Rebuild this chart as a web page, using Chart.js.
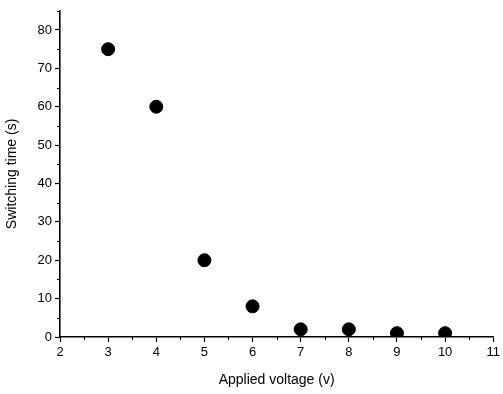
<!DOCTYPE html>
<html>
<head>
<meta charset="utf-8">
<script src="https://cdn.jsdelivr.net/npm/chart.js@4/dist/chart.umd.min.js"></script>
<style>
  html, body { margin: 0; padding: 0; background: #fff; }
  #wrap { width: 503px; height: 394px; }
</style>
</head>
<body>
<div id="wrap"><canvas id="chart"></canvas></div>
<script>
// ===== Data =====
const voltages = [3, 4, 5, 6, 7, 8, 9, 10];
const switchTimes = [75, 60, 20, 8, 2, 2, 1, 1];
const xTicks = [2, 3, 4, 5, 6, 7, 8, 9, 10, 11];
const yTicks = [0, 10, 20, 30, 40, 50, 60, 70, 80];
const xMinor = [2.5, 3.5, 4.5, 5.5, 6.5, 7.5, 8.5, 9.5, 10.5];
const yMinor = [5, 15, 25, 35, 45, 55, 65, 75, 85];

Chart.defaults.font.family = "'Liberation Sans', Arial, sans-serif";
Chart.defaults.color = '#000';

// small outward minor ticks, placed through the scales
const minorTicks = {
  id: 'minorTicks',
  afterDraw(chart) {
    const { ctx, scales: { x, y }, chartArea } = chart;
    ctx.save();
    ctx.strokeStyle = '#000';
    ctx.lineWidth = 1;
    ctx.beginPath();
    xMinor.forEach(v => {
      const px = Math.round(x.getPixelForValue(v)) + 0.5;
      ctx.moveTo(px, chartArea.bottom);
      ctx.lineTo(px, chartArea.bottom + 3);
    });
    yMinor.forEach(v => {
      const py = Math.round(y.getPixelForValue(v)) + 0.5;
      ctx.moveTo(chartArea.left, py);
      ctx.lineTo(chartArea.left - 3, py);
    });
    ctx.stroke();
    ctx.restore();
  }
};

new Chart(document.getElementById('chart'), {
  type: 'scatter',
  data: {
    datasets: [{
      data: voltages.map((v, i) => ({ x: v, y: switchTimes[i] })),
      backgroundColor: '#000',
      borderColor: '#000',
      pointRadius: 6.5,
      pointHoverRadius: 6.5,
    }]
  },
  options: {
    responsive: true,
    maintainAspectRatio: false,
    animation: false,
    layout: { padding: { left: 4, top: 8, right: 6, bottom: 5 } },
    plugins: { legend: { display: false }, tooltip: { enabled: false } },
    scales: {
      x: {
        type: 'linear',
        min: 2,
        max: 11,
        afterBuildTicks: s => { s.ticks = xTicks.map(v => ({ value: v })); },
        afterFit: s => { s.height = 52; },
        grid: { drawOnChartArea: false, drawTicks: true, tickLength: 5, color: '#000', tickWidth: 1.2 },
        border: { display: true, color: '#000', width: 1.6 },
        ticks: { font: { size: 13 }, padding: 3, maxRotation: 0 },
        title: { display: true, text: 'Applied voltage (v)', font: { size: 14 }, padding: { top: 4, bottom: 0 } }
      },
      y: {
        type: 'linear',
        min: 0,
        max: 85,
        afterBuildTicks: s => { s.ticks = yTicks.map(v => ({ value: v })); },
        afterFit: s => { s.width = 56; },
        grid: { drawOnChartArea: false, drawTicks: true, tickLength: 5, color: '#000', tickWidth: 1.2 },
        border: { display: true, color: '#000', width: 1.6 },
        ticks: { font: { size: 13 }, padding: 3 },
        title: { display: true, text: 'Switching time (s)', font: { size: 14 }, padding: { top: 0, bottom: 4 } }
      }
    }
  },
  plugins: [minorTicks]
});
</script>
</body>
</html>
